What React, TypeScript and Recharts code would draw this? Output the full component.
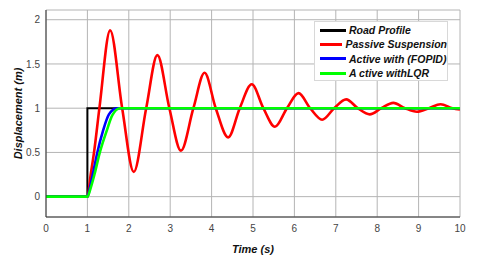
import { CartesianGrid, Line, LineChart, XAxis, YAxis } from "recharts";

const xTicks = [0, 1, 2, 3, 4, 5, 6, 7, 8, 9, 10];
const yTicks = [0, 0.5, 1, 1.5, 2];

const roadT = [0, 1, 1, 10];
const roadY = [0, 0, 1, 1];

const passiveT = [0, 1, 1.08, 1.16, 1.29, 1.55, 1.84, 2.12, 2.42, 2.69, 2.98, 3.26, 3.56, 3.83, 4.1, 4.4, 4.68, 4.97, 5.25, 5.53, 5.82, 6.1, 6.38, 6.67, 6.96, 7.25, 7.53, 7.82, 8.1, 8.39, 8.67, 8.96, 9.25, 9.53, 9.82, 10];
const passiveY = [0, 0, 0.25, 0.5, 1, 1.88, 1, 0.28, 1, 1.6, 1, 0.52, 1, 1.4, 1, 0.67, 1, 1.27, 1, 0.79, 1, 1.17, 1, 0.87, 1, 1.1, 1, 0.93, 1, 1.06, 1, 0.96, 1, 1.045, 1, 0.985];

const fopidT = [0, 1, 1.06, 1.13, 1.24, 1.38, 1.52, 1.71, 10];
const fopidY = [0, 0, 0.1, 0.25, 0.5, 0.75, 0.93, 1, 1];

const lqrT = [0, 1, 1.08, 1.17, 1.3, 1.47, 1.6, 1.79, 10];
const lqrY = [0, 0, 0.1, 0.25, 0.5, 0.75, 0.92, 1, 1];

const toPoints = (t: number[], y: number[]) => t.map((v, i) => ({ t: v, y: y[i] }));

const series = [
  { name: "Road Profile", color: "#000000", width: 2, type: "linear", data: toPoints(roadT, roadY) },
  { name: "Passive Suspension", color: "#ff0000", width: 2.6, type: "monotone", data: toPoints(passiveT, passiveY) },
  { name: "Active with (FOPID)", color: "#0000ff", width: 2.6, type: "monotone", data: toPoints(fopidT, fopidY) },
  { name: "A ctive withLQR", color: "#00ff00", width: 2.6, type: "monotone", data: toPoints(lqrT, lqrY) },
] as const;

const font = "'Liberation Sans', Arial, sans-serif";
const tickStyle = { fontSize: 10, fill: "#444", fontFamily: font };
const labelStyle = { fontSize: 11, fontWeight: "bold", fontStyle: "italic", fill: "#111", fontFamily: font } as const;

// rotated y label, centred on the plot height
const YLabel = ({ viewBox }: any) => {
  const cy = viewBox.y + viewBox.height / 2;
  return (
    <text x={18} y={cy} transform={`rotate(-90 18 ${cy})`} textAnchor="middle" dominantBaseline="central" style={labelStyle}>
      Displacement (m)
    </text>
  );
};

export default function App() {
  return (
    <div style={{ position: "absolute", left: 0, top: 0, width: 480, height: 261, background: "#fff" }}>
      <LineChart width={480} height={261} margin={{ top: 10, right: 20, bottom: 0, left: 0 }}>
        <CartesianGrid stroke="#b4b4b4" strokeWidth={1} />
        <XAxis
          dataKey="t"
          type="number"
          domain={[0, 10]}
          ticks={xTicks}
          allowDataOverflow
          height={44}
          stroke="#333"
          tickLine={false}
          tick={tickStyle}
          label={{ value: "Time (s)", position: "insideBottom", offset: 8, style: labelStyle }}
        />
        <XAxis xAxisId="top" orientation="top" type="number" domain={[0, 10]} height={0} tick={false} tickLine={false} stroke="#333" />
        <YAxis
          type="number"
          domain={[-0.23, 2.11]}
          ticks={yTicks}
          allowDataOverflow
          width={46}
          stroke="#333"
          tickLine={false}
          tickSize={5}
          tickMargin={1}
          tick={tickStyle}
          label={<YLabel />}
        />
        <YAxis yAxisId="right" orientation="right" type="number" domain={[-0.23, 2.11]} width={0} tick={false} tickLine={false} stroke="#333" />
        {series.map((s) => (
          <Line
            key={s.name}
            data={s.data}
            dataKey="y"
            name={s.name}
            type={s.type}
            stroke={s.color}
            strokeWidth={s.width}
            dot={false}
            isAnimationActive={false}
          />
        ))}
      </LineChart>
      <div
        style={{
          position: "absolute",
          left: 314,
          top: 21,
          width: 134,
          height: 60,
          boxSizing: "border-box",
          border: "1px solid #d8d8d8",
          background: "#fff",
          fontFamily: font,
          fontSize: 10.5,
          fontWeight: "bold",
          fontStyle: "italic",
          color: "#111",
          paddingTop: 1,
        }}
      >
        {series.map((s) => (
          <div key={s.name} style={{ display: "flex", alignItems: "center", height: 14.3, whiteSpace: "nowrap" }}>
            <span style={{ display: "inline-block", width: 26, height: 3, background: s.color, marginLeft: 5, marginRight: 3 }} />
            <span>{s.name}</span>
          </div>
        ))}
      </div>
    </div>
  );
}
